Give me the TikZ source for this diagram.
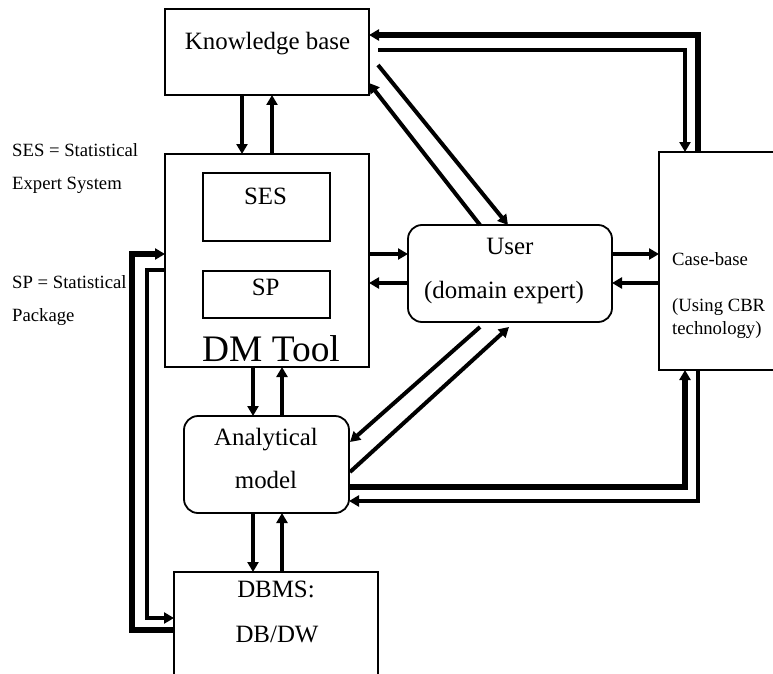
\documentclass[tikz,border=0pt]{standalone}
\usepackage{fontspec}
\setmainfont{Liberation Serif}
\usetikzlibrary{arrows.meta,calc}
\tikzset{
  box/.style={draw, line width=1.8pt, inner sep=0pt, outer sep=0pt},
  rbox/.style={box, rounded corners=14pt},
  lbl/.style={anchor=base, inner sep=0pt, font=\fontsize{24.9}{29}\selectfont},
  note/.style={anchor=base west, inner sep=0pt, font=\fontsize{18.7}{22}\selectfont},
  link/.style={line width=4pt, -{Triangle[length=10pt,width=11pt]}},
  heavy/.style={link, line width=5.5pt}
}
\begin{document}
\begin{tikzpicture}[x=1pt, y=-1pt]
\useasboundingbox (0,0) rectangle (773,674);
\clip (0,0) rectangle (773,674);

% boxes
\node[box, minimum width=204pt, minimum height=86pt]  (kb)   at (267,52) {};
\node[box, minimum width=204pt, minimum height=213pt] (dm)   at (267,260.5) {};
\node[box, minimum width=127pt, minimum height=68pt]  (ses)  at (266.5,207) {};
\node[box, minimum width=127pt, minimum height=47pt]  (sp)   at (266.5,294.5) {};
\node[rbox, minimum width=204pt, minimum height=97pt] (user) at (510,273.5) {};
\node[box, minimum width=141pt, minimum height=218pt] (cb)   at (729.5,261) {};
\node[rbox, minimum width=165pt, minimum height=97pt] (an)   at (266.5,464.5) {};
\node[box, minimum width=204pt, minimum height=128pt] (db)   at (276,636) {};

% texts
\node[lbl] (kbt)  at (267.5,50) {Knowledge base};
\node[lbl] (sest) at (265.5,204) {SES};
\node[lbl] (spt)  at (265.7,295) {SP};
\node[lbl, font=\fontsize{37.4}{44}\selectfont] (dmt) at (271,361) {DM Tool};
\node[lbl] (ut1)  at (510,254) {User};
\node[lbl] (ut2)  at (504,298) {(domain expert)};
\node[lbl] (at1)  at (266,445) {Analytical};
\node[lbl] (at2)  at (266,488) {model};
\node[lbl] (dbt1) at (276,597) {DBMS:};
\node[lbl] (dbt2) at (277,642) {DB/DW};
\node[note] (cbt1) at (672,265) {Case-base};
\node[note] (cbt2) at (672,311) {(Using CBR};
\node[note] (cbt3) at (672,334) {technology)};
\node[note] (n1) at (12,157) {SES = Statistical};
\node[note] (n2) at (12,189) {Expert System};
\node[note] (n3) at (12,288) {SP = Statistical};
\node[note] (n4) at (12,321) {Package};

% knowledge base <-> case-base
\draw[heavy] ($(cb.north)+(-31.5,0)$) |- ($(kb.east)+(0,-17)$);
\draw[link, line width=4.8pt] ($(kb.east)+(9,-2)$) -| ($(cb.north)+(-44.5,0)$);

% knowledge base <-> user
\draw[link] ($(kb.east)+(9,13)$) -- ($(user.north)+(-2,0)$);
\draw[link] ($(user.north)+(-30,0)$) -- ($(kb.east)+(0,31)$);

% knowledge base <-> DM tool
\draw[link] ($(kb.south)+(-25,0)$) -- ($(dm.north)+(-25,0)$);
\draw[link] ($(dm.north)+(5,0)$) -- ($(kb.south)+(5,0)$);

% DM tool <-> user
\draw[link] ($(dm.east)+(0,-6.5)$) -- ($(user.west)+(0,-19.5)$);
\draw[link] ($(user.west)+(0,9.5)$) -- ($(dm.east)+(0,22.5)$);

% user <-> case-base
\draw[link] ($(user.east)+(0,-19.5)$) -- ($(cb.west)+(0,-7)$);
\draw[link] ($(cb.west)+(0,22)$) -- ($(user.east)+(0,9.5)$);

% analytical model <-> user
\draw[link] ($(an.east)+(1,7.5)$) -- ($(user.south)+(-1,5)$);
\draw[link] ($(user.south)+(-30,5)$) -- ($(an.east)+(1,-22.5)$);

% analytical model <-> case-base
\draw[heavy] ($(an.east)+(0,22.5)$) -| ($(cb.south)+(-44.5,0)$);
\draw[link] ($(cb.south)+(-31.5,0)$) |- ($(an.east)+(0,36.5)$);

% DM tool <-> analytical model
\draw[link] ($(dm.south)+(-14,0)$) -- ($(an.north)+(-13.5,0)$);
\draw[link] ($(an.north)+(15.5,0)$) -- ($(dm.south)+(15,0)$);

% analytical model <-> DBMS
\draw[link] ($(an.south)+(-13.5,0)$) -- ($(db.north)+(-23,0)$);
\draw[link] ($(db.north)+(6,0)$) -- ($(an.south)+(15.5,0)$);

% DBMS <-> DM tool
\draw[heavy] ($(db.west)+(0,-6)$) -- ++(-42,0) |- ($(dm.west)+(0,-6.5)$);
\draw[link] ($(dm.west)+(0,9.5)$) -- ++(-18,0) |- ($(db.west)+(0,-18)$);
\end{tikzpicture}
\end{document}
